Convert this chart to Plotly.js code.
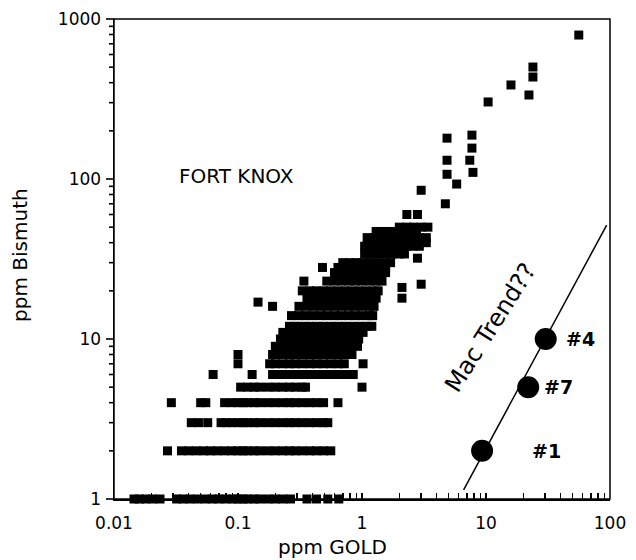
<!DOCTYPE html>
<html>
<head>
<meta charset="utf-8">
<script src="https://cdn.plot.ly/plotly-3.0.1.min.js"></script>
<style>
  html, body { margin: 0; padding: 0; background: #ffffff; }
  #chart { width: 636px; height: 560px; }
</style>
</head>
<body>
<div id="chart"></div>
<script>
// ---- Fort Knox samples: Bi levels (ppm) and the gold values (ppm) found at each level ----
const bandBi = [1, 2, 3, 4, 5, 6, 7, 8, 9, 10, 11, 12, 14, 16, 18, 20, 23, 26, 28, 30, 34, 38, 43, 47, 50, 60];
const bandGold = [
  [0.0145, 0.016, 0.018, 0.0205, 0.0235, 0.032, 0.036, 0.041, 0.047, 0.054, 0.062, 0.07, 0.08, 0.091, 0.10, 0.11, 0.12, 0.135, 0.15, 0.175, 0.2, 0.23, 0.265, 0.36, 0.43, 0.53, 0.65],
  [0.027, 0.035, 0.040, 0.046, 0.053, 0.06, 0.068, 0.078, 0.089, 0.10, 0.11, 0.12, 0.135, 0.15, 0.175, 0.2, 0.23, 0.26, 0.29, 0.33, 0.38, 0.43, 0.49, 0.56],
  [0.042, 0.048, 0.057, 0.073, 0.08, 0.089, 0.10, 0.11, 0.12, 0.135, 0.15, 0.175, 0.2, 0.23, 0.26, 0.29, 0.33, 0.38, 0.43, 0.49, 0.53],
  [0.029, 0.050, 0.055, 0.078, 0.089, 0.10, 0.11, 0.12, 0.135, 0.15, 0.175, 0.2, 0.23, 0.26, 0.29, 0.33, 0.38, 0.43, 0.49, 0.64],
  [0.105, 0.12, 0.135, 0.15, 0.175, 0.2, 0.23, 0.26, 0.29, 0.33, 0.35, 1.0],
  [0.063, 0.13, 0.19, 0.22, 0.25, 0.29, 0.33, 0.38, 0.43, 0.49, 0.56, 0.64, 0.73, 0.85],
  [0.10, 0.18, 0.2, 0.23, 0.26, 0.29, 0.33, 0.38, 0.43, 0.49, 0.56, 0.64, 0.72, 1.02],
  [0.10, 0.19, 0.22, 0.25, 0.29, 0.33, 0.38, 0.43, 0.49, 0.56, 0.64, 0.73, 0.83],
  [0.2, 0.23, 0.26, 0.29, 0.33, 0.38, 0.43, 0.49, 0.56, 0.64, 0.73, 0.83, 0.92],
  [0.22, 0.25, 0.29, 0.33, 0.38, 0.43, 0.49, 0.56, 0.64, 0.73, 0.83, 0.94],
  [0.23, 0.26, 0.29, 0.33, 0.38, 0.43, 0.49, 0.56, 0.64, 0.73, 0.83, 0.95, 1.02],
  [0.26, 0.29, 0.33, 0.38, 0.43, 0.49, 0.56, 0.64, 0.73, 0.83, 0.95, 1.08, 1.2],
  [0.27, 0.31, 0.35, 0.4, 0.46, 0.52, 0.6, 0.68, 0.78, 0.88, 1.0, 1.15, 1.22],
  [0.31, 0.36, 0.41, 0.47, 0.53, 0.6, 0.68, 0.78, 0.88, 1.0, 1.15, 1.25],
  [0.36, 0.41, 0.47, 0.53, 0.6, 0.68, 0.78, 0.88, 1.0, 1.15, 1.3, 2.1],
  [0.33, 0.38, 0.43, 0.49, 0.56, 0.64, 0.73, 0.83, 0.95, 1.08, 1.23, 1.35],
  [0.34, 0.52, 0.6, 0.68, 0.78, 0.88, 1.0, 1.15, 1.3, 1.45],
  [0.6, 0.68, 0.78, 0.88, 1.0, 1.15, 1.3, 1.45, 1.55],
  [0.64, 0.72, 0.82, 0.93, 1.05, 1.2, 1.38, 1.55],
  [0.7, 0.8, 0.9, 1.02, 1.15, 1.3, 1.5, 1.7],
  [1.05, 1.2, 1.35, 1.55, 1.75, 2.0, 2.2],
  [1.05, 1.2, 1.35, 1.55, 1.75, 2.0, 2.3, 2.6, 2.9],
  [1.1, 1.25, 1.45, 1.65, 1.9, 2.2, 2.5, 2.9, 3.3],
  [1.3, 1.5, 1.75, 2.05, 2.4, 2.75],
  [2.0, 2.3, 2.6, 3.0, 3.4],
  [2.3, 2.8]
];
// ---- Fort Knox scattered samples ----
const looseGold = [0.145, 0.19, 0.48, 2.1, 3.0, 2.8, 3.3, 3.0, 4.7, 5.8, 4.85, 4.85, 7.7, 7.7, 7.4, 7.85, 4.85, 10.4, 15.9, 22.2, 23.9, 23.9, 56];
const looseBi   = [17, 16, 28, 21, 22, 32, 40, 85, 70, 93, 131, 107, 188, 156, 131, 110, 180, 303, 387, 335, 501, 434, 794];
// ---- Mac samples ----
const macGold = [9.3, 21.9, 30.3];
const macBi = [2, 5, 10];
const macNames = ['#1', '#7', '#4'];
// ---- Mac trend line ----
const trendGold = [6.6, 94];
const trendBi = [1.14, 51.5];
// ---- tick labels ----
const goldTickLabels = ['0.01', '0.1', '1', '10', '100'];
const biTickLabels = ['1', '10', '100', '1000'];

const fkGold = [], fkBi = [];
bandBi.forEach((b, i) => bandGold[i].forEach(g => { fkGold.push(g); fkBi.push(b); }));
looseGold.forEach((g, i) => { fkGold.push(g); fkBi.push(looseBi[i]); });

const FONT = 'DejaVu Sans, Liberation Sans, Arial, sans-serif';

const traces = [
  { type: 'scatter', mode: 'markers', x: fkGold, y: fkBi, cliponaxis: false,
    marker: { symbol: 'square', size: 9, color: '#000', line: { width: 0 } }, hoverinfo: 'x+y' },
  { type: 'scatter', mode: 'lines', x: trendGold, y: trendBi,
    line: { color: '#000', width: 1.5 }, hoverinfo: 'skip' },
  { type: 'scatter', mode: 'markers', x: macGold, y: macBi, text: macNames,
    marker: { symbol: 'circle', size: 22, color: '#000', line: { width: 0 } }, hoverinfo: 'text+x+y' }
];

const lg = Math.log10;
const labelOffsets = { '#1': [3.3, 1.0], '#7': [1.75, 1.0], '#4': [1.9, 1.0] };

const annotations = [
  { xref: 'x', yref: 'y', x: lg(0.0977), y: lg(105), text: 'FORT KNOX', showarrow: false,
    xanchor: 'center', yanchor: 'middle', font: { family: FONT, size: 20, color: '#000' } },
  { xref: 'x', yref: 'y', x: lg(10.8), y: lg(11.7), text: 'Mac Trend??', showarrow: false, textangle: -57.6,
    xanchor: 'center', yanchor: 'middle', font: { family: FONT, size: 24, color: '#000' } },
  { xref: 'paper', yref: 'paper', x: 0.4415, y: -0.1, text: 'ppm GOLD', showarrow: false,
    xanchor: 'center', yanchor: 'middle', font: { family: FONT, size: 20, color: '#000' } },
  { xref: 'paper', yref: 'paper', x: -0.19, y: 0.508, text: 'ppm Bismuth', showarrow: false, textangle: -90,
    xanchor: 'center', yanchor: 'middle', font: { family: FONT, size: 20, color: '#000' } }
];
macNames.forEach((n, i) => {
  annotations.push({ xref: 'x', yref: 'y', x: lg(macGold[i] * labelOffsets[n][0]), y: lg(macBi[i] * labelOffsets[n][1]),
    text: '<b>' + n + '</b>', showarrow: false, xanchor: 'center', yanchor: 'middle',
    font: { family: FONT, size: 19, color: '#000' } });
});

// tick positions 1..9 in every decade; only decades carry a label
function decadeTicks(d0, d1, labels) {
  const vals = [], text = [];
  for (let d = d0; d <= d1; d++) {
    for (let k = 1; k <= (d === d1 ? 1 : 9); k++) {
      vals.push(k * Math.pow(10, d));
      text.push(k === 1 ? labels[d - d0] : '');
    }
  }
  return { vals, text };
}
const xt = decadeTicks(-2, 2, goldTickLabels);
const yt = decadeTicks(0, 3, biTickLabels);

// y-axis ticks drawn outside the frame as paper-referenced strokes (axis furniture)
const PLOT_W = 636 - 114 - 26;
const yRange = [0, 3];
const shapes = [
  { type: 'rect', xref: 'paper', yref: 'paper', x0: 0, x1: 1, y0: 0, y1: 1,
    line: { color: '#000', width: 1.5 }, fillcolor: 'rgba(0,0,0,0)', layer: 'above' }
];
yt.vals.forEach((v, i) => {
  const len = yt.text[i] !== '' ? 8 : 5;
  const yf = (lg(v) - yRange[0]) / (yRange[1] - yRange[0]);
  shapes.push({ type: 'line', xref: 'paper', yref: 'paper', x0: -len / PLOT_W, x1: 0, y0: yf, y1: yf,
    line: { color: '#000', width: 1.6 }, layer: 'above' });
});

const layout = {
  width: 636, height: 560,
  margin: { l: 114, r: 26, t: 19, b: 61 },
  paper_bgcolor: '#ffffff', plot_bgcolor: '#ffffff',
  showlegend: false,
  xaxis: {
    type: 'log', range: [-2, 2], tickmode: 'array', tickvals: xt.vals, ticktext: xt.text,
    showgrid: false, zeroline: false, showline: true, linecolor: '#000', linewidth: 1.5, mirror: false,
    ticks: 'inside', ticklen: 6, tickwidth: 1.6, tickcolor: '#000', ticklabelstandoff: 8,
    tickfont: { family: FONT, size: 17, color: '#000' }
  },
  yaxis: {
    type: 'log', range: yRange, tickmode: 'array', tickvals: yt.vals, ticktext: yt.text,
    showgrid: false, zeroline: false, showline: true, linecolor: '#000', linewidth: 1.5, mirror: false,
    ticks: '', ticklabelstandoff: 8,
    tickfont: { family: FONT, size: 17, color: '#000' }
  },
  shapes: shapes,
  annotations: annotations
};

Plotly.newPlot('chart', traces, layout, { staticPlot: true, displayModeBar: false });
</script>
</body>
</html>
